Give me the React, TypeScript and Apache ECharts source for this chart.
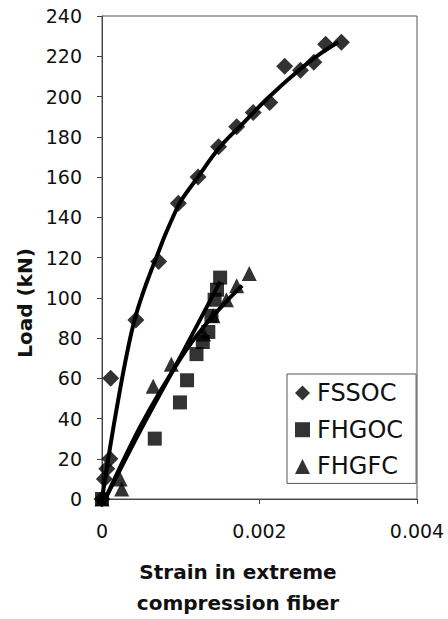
import React, { useEffect, useRef } from 'react';
import * as echarts from 'echarts';

const seriesNames = ['FSSOC', 'FHGOC', 'FHGFC'];

// Measured points (strain, load kN)
const fssocStrain = [0, 0.00003, 0.00006, 0.0001, 0.00011, 0.00043, 0.00072, 0.00097, 0.00122, 0.00148, 0.00171, 0.00192, 0.00213, 0.00232, 0.00252, 0.00269, 0.00284, 0.00304];
const fssocLoad = [0, 10, 15, 20, 60, 89, 118, 147, 160, 175, 185, 192, 197, 215, 213, 217, 226, 227];

const fhgocStrain = [0, 0.00067, 0.00099, 0.00108, 0.0012, 0.00128, 0.00135, 0.00139, 0.00143, 0.00146, 0.0015];
const fhgocLoad = [0, 30, 48, 59, 72, 78, 83, 91, 99, 104, 110];

const fhgfcStrain = [0, 0.00023, 0.00025, 0.00065, 0.00088, 0.00129, 0.00141, 0.00158, 0.00171, 0.00187];
const fhgfcLoad = [0, 10, 5, 56, 67, 82, 91, 99, 106, 112];

// Trend lines
const fssocTrendStrain = [0, 0.0001, 0.0002, 0.0003, 0.0004, 0.0005, 0.0006, 0.0007, 0.0008, 0.0009, 0.001, 0.0012, 0.0015, 0.0018, 0.0021, 0.0025, 0.0028, 0.003];
const fssocTrendLoad = [0, 25, 48, 69, 87, 100, 111, 121, 131, 140, 148, 159, 175, 187, 199, 213, 222, 227];

const fhgocTrendStrain = [0.00004, 0.0005, 0.001, 0.0015];
const fhgocTrendLoad = [0, 35, 71, 108];

const fhgfcTrendStrain = [0.00004, 0.0005, 0.001, 0.0013, 0.0016, 0.00178];
const fhgfcTrendLoad = [0, 37, 70, 86, 99, 106];

const xMin = 0;
const xMax = 0.004;
const xInterval = 0.002;
const yMin = 0;
const yMax = 240;
const yInterval = 20;

const yTitle = 'Load (kN)';
const xTitle = 'Strain in extreme\ncompression fiber';

const zip = (xs: number[], ys: number[]) => xs.map((x, i) => [x, ys[i]]);

export default function App() {
  const ref = useRef<HTMLDivElement>(null);
  useEffect(() => {
    if (!ref.current) return;
    const chart = echarts.init(ref.current, undefined, { renderer: 'svg' });
    const font = 'DejaVu Sans';
    const lineStyle = { color: '#000', width: 4 };
    chart.setOption({
      animation: false,
      backgroundColor: '#fff',
      grid: {
        left: 102,
        top: 16,
        right: 31,
        bottom: 120,
        show: true,
        borderColor: '#555',
        borderWidth: 1,
      },
      xAxis: {
        type: 'value',
        min: xMin,
        max: xMax,
        interval: xInterval,
        axisLine: { show: true, lineStyle: { color: '#444', width: 1 } },
        axisTick: { show: true, inside: false, length: 5, lineStyle: { color: '#444' } },
        splitLine: { show: false },
        axisLabel: {
          margin: 22,
          fontFamily: font,
          fontSize: 19,
          color: '#111',
          formatter: (v: number) => (v === 0 ? '0' : v.toFixed(3)),
        },
      },
      yAxis: {
        type: 'value',
        min: yMin,
        max: yMax,
        interval: yInterval,
        axisLine: { show: true, lineStyle: { color: '#444', width: 1 } },
        axisTick: { show: true, inside: false, length: 5, lineStyle: { color: '#444' } },
        splitLine: { show: false },
        axisLabel: {
          margin: 20,
          fontFamily: font,
          fontSize: 19,
          color: '#111',
        },
      },
      legend: {
        data: seriesNames,
        orient: 'vertical',
        left: 287,
        top: 374,
        itemWidth: 15,
        itemHeight: 15,
        itemGap: 12.7,
        padding: [7, 13, 5, 8],
        backgroundColor: '#fff',
        borderColor: '#555',
        borderWidth: 1,
        textStyle: {
          fontFamily: font,
          fontSize: 24,
          lineHeight: 24,
          color: '#111',
          padding: [0, 0, 0, 2],
        },
      },
      graphic: [
        {
          type: 'text',
          x: 25,
          y: 303,
          rotation: Math.PI / 2,
          style: {
            text: yTitle,
            fontFamily: font,
            fontWeight: 'bold',
            fontSize: 20,
            fill: '#111',
            textAlign: 'center',
            textVerticalAlign: 'middle',
          },
        },
        {
          type: 'text',
          x: 238,
          y: 587,
          style: {
            text: xTitle,
            fontFamily: font,
            fontWeight: 'bold',
            fontSize: 20,
            lineHeight: 31,
            fill: '#111',
            textAlign: 'center',
            textVerticalAlign: 'middle',
          },
        },
      ],
      series: [
        {
          name: seriesNames[0],
          type: 'scatter',
          symbol: 'diamond',
          symbolSize: 17,
          itemStyle: { color: '#000' },
          data: zip(fssocStrain, fssocLoad),
          z: 3,
        },
        {
          name: seriesNames[1],
          type: 'scatter',
          symbol: 'rect',
          symbolSize: 14,
          itemStyle: { color: '#000' },
          data: zip(fhgocStrain, fhgocLoad),
          z: 3,
        },
        {
          name: seriesNames[2],
          type: 'scatter',
          symbol: 'triangle',
          symbolSize: 15,
          itemStyle: { color: '#000' },
          data: zip(fhgfcStrain, fhgfcLoad),
          z: 3,
        },
        {
          name: 'FSSOC trend',
          type: 'line',
          smooth: 0.4,
          showSymbol: false,
          lineStyle,
          data: zip(fssocTrendStrain, fssocTrendLoad),
          z: 4,
        },
        {
          name: 'FHGOC trend',
          type: 'line',
          smooth: 0.3,
          showSymbol: false,
          lineStyle,
          data: zip(fhgocTrendStrain, fhgocTrendLoad),
          z: 4,
        },
        {
          name: 'FHGFC trend',
          type: 'line',
          smooth: 0.3,
          showSymbol: false,
          lineStyle,
          data: zip(fhgfcTrendStrain, fhgfcTrendLoad),
          z: 4,
        },
      ],
    });
    return () => chart.dispose();
  }, []);
  return <div ref={ref} style={{ width: 448, height: 619, position: 'absolute', left: 0, top: 0 }} />;
}
